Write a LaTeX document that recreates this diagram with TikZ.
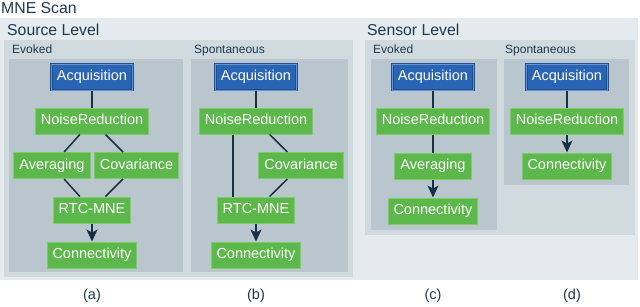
\documentclass[tikz,border=0pt]{standalone}
\usepackage{fontspec}
\setmainfont{Liberation Sans}
\usetikzlibrary{arrows.meta}
\definecolor{outerbg}{RGB}{228,234,237}
\definecolor{levelbg}{RGB}{208,217,222}
\definecolor{innerbg}{RGB}{186,198,205}
\definecolor{titlec}{RGB}{30,58,78}
\definecolor{bluefill}{RGB}{42,100,180}
\definecolor{bluedraw}{RGB}{30,78,150}
\definecolor{greenfill}{RGB}{92,184,74}
\definecolor{greendraw}{RGB}{125,204,104}
\definecolor{edgec}{RGB}{22,48,68}
\tikzset{
  proc/.style={rectangle, draw=greendraw, fill=greenfill, line width=1pt, text=white,
    font=\fontsize{14.5}{16}\selectfont, inner xsep=5.5pt, inner ysep=0pt,
    minimum height=26pt, text height=10.5pt, text depth=3pt},
  acq/.style={proc, draw=bluedraw, fill=bluefill, double=bluefill!70!white, double distance=0.4pt},
  link/.style={draw=edgec, line width=1.5pt},
  arr/.style={link, -{Stealth[length=12pt,width=11pt,inset=3pt]}},
  bigtitle/.style={anchor=base west, inner sep=0pt, text=titlec, font=\fontsize{15.8}{18}\selectfont},
  smalltitle/.style={anchor=base west, inner sep=0pt, text=titlec, font=\fontsize{12}{14}\selectfont},
  caption/.style={inner sep=0pt, text=titlec, font=\fontsize{14.5}{16}\selectfont},
}
\begin{document}
\begin{tikzpicture}[x=1pt,y=-1pt]
\useasboundingbox (0,0) rectangle (640,306);
% backgrounds
\fill[outerbg] (0,18) rectangle (638,280);
\fill[levelbg] (4,40) rectangle (353,277);
\fill[levelbg] (365,40) rectangle (635,235);
\fill[innerbg] (9,59) rectangle (183,272);
\fill[innerbg] (191,59) rectangle (348,272);
\fill[innerbg] (371,59) rectangle (497,230);
\fill[innerbg] (504,59) rectangle (629,185);
% titles
\node[bigtitle] (tmne) at (1,13) {MNE Scan};
\node[bigtitle] (tsrc) at (7,35) {Source Level};
\node[bigtitle] (tsen) at (367,35) {Sensor Level};
\node[smalltitle] (tsrcev) at (12,53) {Evoked};
\node[smalltitle] (tsrcsp) at (194,53) {Spontaneous};
\node[smalltitle] (tsenev) at (373,53) {Evoked};
\node[smalltitle] (tsensp) at (505,53) {Spontaneous};
% (a)
\node[acq]  (acqa) at (92,77) {Acquisition};
\node[proc] (nra)  at (92,121) {NoiseReduction};
\node[proc] (avga) at (52,165.5) {Averaging};
\node[proc] (cova) at (136.5,165.5) {Covariance};
\node[proc] (rtca) at (92,210) {RTC-MNE};
\node[proc] (cona) at (92,255) {Connectivity};
\draw[link] (acqa) -- (nra);
\draw[link] (nra) -- (avga);
\draw[link] (nra) -- (cova);
\draw[link] (avga) -- (rtca);
\draw[link] (cova) -- (rtca);
\draw[arr] (rtca) -- (cona);
% (b)
\node[acq]  (acqb) at (256,77) {Acquisition};
\node[proc] (nrb)  at (256,121) {NoiseReduction};
\node[proc] (covb) at (301,165.5) {Covariance};
\node[proc] (rtcb) at (256,210) {RTC-MNE};
\node[proc] (conb) at (256,255) {Connectivity};
\draw[link] (acqb) -- (nrb);
\draw[link] ([xshift=-23pt]nrb.south) -- ([xshift=-23pt]rtcb.north);
\draw[link] (nrb) -- (covb);
\draw[link] (covb) -- (rtcb);
\draw[arr] (rtcb) -- (conb);
% (c)
\node[acq]  (acqc) at (433,77) {Acquisition};
\node[proc] (nrc)  at (433,121) {NoiseReduction};
\node[proc] (avgc) at (433,166) {Averaging};
\node[proc] (conc) at (433,211) {Connectivity};
\draw[link] (acqc) -- (nrc);
\draw[link] (nrc) -- (avgc);
\draw[arr] (avgc) -- (conc);
% (d)
\node[acq]  (acqd) at (567,77) {Acquisition};
\node[proc] (nrd)  at (567,121) {NoiseReduction};
\node[proc] (cond) at (567,166) {Connectivity};
\draw[link] (acqd) -- (nrd);
\draw[arr] (nrd) -- (cond);
% captions
\node[caption] (capa) at (92,296) {(a)};
\node[caption] (capb) at (256,296) {(b)};
\node[caption] (capc) at (433,296) {(c)};
\node[caption] (capd) at (572,296) {(d)};
\end{tikzpicture}
\end{document}
